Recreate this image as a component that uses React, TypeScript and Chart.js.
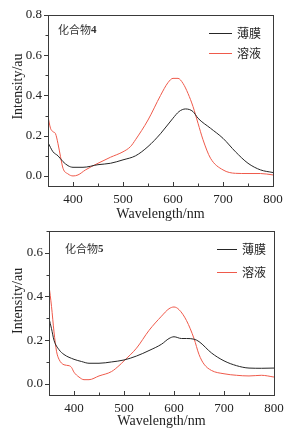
import React, { useEffect, useRef } from 'react';
import { Chart, registerables } from 'chart.js';
Chart.register(...registerables);

// ---- data ----
const xTicks = [400, 500, 600, 700, 800];
const yTicksTop = [0, 0.2, 0.4, 0.6, 0.8];
const yTicksBottom = [0, 0.2, 0.4, 0.6];
const seriesLabels = ['薄膜', '溶液'];
const compoundTop = ['化合物', '4'];
const compoundBottom = ['化合物', '5'];
const xTitle = 'Wavelength/nm';
const yTitle = 'Intensity/au';

const filmTopX = [350, 360, 370, 380, 390, 400, 420, 450, 475, 500, 525, 550, 575, 600, 612, 625, 640, 650, 675, 700, 725, 750, 775, 800];
const filmTopY = [0.166, 0.12, 0.1, 0.071, 0.051, 0.043, 0.043, 0.056, 0.063, 0.08, 0.1, 0.146, 0.21, 0.287, 0.32, 0.333, 0.32, 0.287, 0.237, 0.187, 0.12, 0.063, 0.03, 0.017];
const solTopX = [350, 355, 360, 365, 370, 375, 380, 390, 400, 410, 425, 450, 475, 500, 515, 525, 550, 575, 590, 600, 610, 620, 630, 640, 650, 660, 675, 700, 725, 750, 775, 800];
const solTopY = [0.295, 0.237, 0.22, 0.21, 0.16, 0.096, 0.038, 0.01, 0.0, 0.005, 0.03, 0.063, 0.093, 0.12, 0.146, 0.18, 0.278, 0.4, 0.464, 0.485, 0.485, 0.46, 0.41, 0.345, 0.262, 0.18, 0.088, 0.03, 0.013, 0.012, 0.012, 0.005];

const filmBotX = [350, 355, 360, 370, 380, 400, 415, 430, 450, 475, 500, 525, 550, 575, 590, 600, 615, 625, 640, 650, 675, 700, 725, 750, 775, 800];
const filmBotY = [0.3, 0.253, 0.2, 0.157, 0.135, 0.113, 0.103, 0.095, 0.095, 0.101, 0.11, 0.128, 0.153, 0.182, 0.208, 0.216, 0.208, 0.208, 0.205, 0.194, 0.142, 0.106, 0.084, 0.073, 0.072, 0.073];
const solBotX = [350, 355, 360, 365, 370, 380, 390, 395, 400, 410, 420, 430, 450, 475, 490, 500, 525, 550, 575, 590, 600, 610, 625, 640, 650, 660, 675, 700, 725, 750, 775, 800];
const solBotY = [0.45, 0.355, 0.238, 0.15, 0.113, 0.088, 0.084, 0.076, 0.054, 0.032, 0.02, 0.02, 0.037, 0.057, 0.084, 0.106, 0.164, 0.245, 0.31, 0.344, 0.352, 0.34, 0.29, 0.208, 0.135, 0.091, 0.062, 0.047, 0.04, 0.037, 0.04, 0.032];

const BLACK = '#262626';
const RED = '#ef5a4b';
const AXIS = '#3a3a3a';
const SERIF = '"Liberation Serif", "Times New Roman", serif';
const CJK = '"Noto Sans CJK SC", sans-serif';

const zip = (xs: number[], ys: number[]) => xs.map((x, i) => ({ x, y: ys[i] }));

type P = {
  film: { x: number; y: number }[];
  sol: { x: number; y: number }[];
  yMax: number;
  yTicks: number[];
  padTop: number;
  padRight: number;
  yW: number;
  xH: number;
  xTitlePad: number;
  yTitleShift: number;
  compound: string[];
  compX: number;
  compY: number;
  legX1: number;
  legX2: number;
  legY: number[];
};

function framePlugin(p: P) {
  return {
    id: 'frame',
    afterDraw(chart: any) {
      const ctx = chart.ctx as CanvasRenderingContext2D;
      const a = chart.chartArea;
      const xs = chart.scales.x;
      const ys = chart.scales.y;
      ctx.save();
      ctx.strokeStyle = AXIS;
      ctx.lineWidth = 1;
      ctx.strokeRect(Math.round(a.left) + 0.5, Math.round(a.top) + 0.5, Math.round(a.right - a.left), Math.round(a.bottom - a.top));
      ctx.beginPath();
      // y ticks (outward), major + minor
      for (let v = 0; v <= p.yMax + 1e-9; v += 0.1) {
        const y = Math.round(ys.getPixelForValue(v)) + 0.5;
        const major = Math.round(v * 10) % 2 === 0;
        const len = major ? 4 : 2.5;
        ctx.moveTo(a.left, y);
        ctx.lineTo(a.left - len, y);
      }
      // x ticks (inward), major + minor
      for (let v = 400; v <= 800; v += 50) {
        const x = Math.round(xs.getPixelForValue(v)) + 0.5;
        const major = v % 100 === 0;
        const len = major ? 4 : 2.5;
        ctx.moveTo(x, a.bottom);
        ctx.lineTo(x, a.bottom - len);
      }
      ctx.stroke();

      // y title
      ctx.fillStyle = '#222';
      ctx.font = `14px ${SERIF}`;
      ctx.textAlign = 'center';
      ctx.textBaseline = 'middle';
      ctx.translate(18, (a.top + a.bottom) / 2 + p.yTitleShift);
      ctx.rotate(-Math.PI / 2);
      ctx.fillText(yTitle, 0, 0);
      ctx.setTransform(1, 0, 0, 1, 0, 0);

      // compound label
      ctx.textAlign = 'left';
      ctx.textBaseline = 'middle';
      ctx.font = `11px ${CJK}`;
      ctx.fillStyle = '#333';
      const cx = a.left + p.compX;
      const cy = a.top + p.compY;
      ctx.fillText(p.compound[0], cx, cy);
      const w = ctx.measureText(p.compound[0]).width;
      ctx.font = `bold 11px ${SERIF}`;
      ctx.fillText(p.compound[1], cx + w, cy);

      // legend
      chart.data.datasets.forEach((ds: any, i: number) => {
        const ly = Math.round(a.top + p.legY[i]) + 0.5;
        ctx.strokeStyle = ds.borderColor;
        ctx.lineWidth = 1;
        ctx.beginPath();
        ctx.moveTo(a.right + p.legX1, ly);
        ctx.lineTo(a.right + p.legX2, ly);
        ctx.stroke();
        ctx.fillStyle = '#222';
        ctx.font = `12px ${CJK}`;
        ctx.fillText(ds.label, a.right + p.legX2 + 5, ly);
      });
      ctx.restore();
    },
  };
}

function makeConfig(p: P): any {
  const tickFont = { family: SERIF, size: 13 };
  return {
    type: 'line',
    data: {
      datasets: [
        { label: seriesLabels[0], data: p.film, borderColor: BLACK, borderWidth: 1, pointRadius: 0, cubicInterpolationMode: 'monotone', fill: false },
        { label: seriesLabels[1], data: p.sol, borderColor: RED, borderWidth: 1, pointRadius: 0, cubicInterpolationMode: 'monotone', fill: false },
      ],
    },
    options: {
      responsive: false,
      animation: false,
      events: [],
      layout: { padding: { top: p.padTop, right: p.padRight, left: 0, bottom: 0 } },
      plugins: { legend: { display: false }, tooltip: { enabled: false } },
      scales: {
        x: {
          type: 'linear',
          min: 350,
          max: 800,
          afterFit: (s: any) => { s.height = p.xH; },
          afterBuildTicks: (s: any) => { s.ticks = xTicks.map((v) => ({ value: v })); },
          grid: { display: false, drawTicks: false },
          border: { display: false },
          ticks: { padding: 6, font: tickFont, color: '#222', maxRotation: 0, autoSkip: false },
          title: { display: true, text: xTitle, font: { family: SERIF, size: 14 }, color: '#222', padding: { top: 0, bottom: p.xTitlePad } },
        },
        y: {
          type: 'linear',
          min: -0.05,
          max: p.yMax,
          afterFit: (s: any) => { s.width = p.yW; },
          afterBuildTicks: (s: any) => { s.ticks = p.yTicks.map((v) => ({ value: v })); },
          grid: { display: false, drawTicks: false },
          border: { display: false },
          ticks: { padding: 6, font: tickFont, color: '#222', autoSkip: false, callback: (v: any) => Number(v).toFixed(1) },
        },
      },
    },
    plugins: [framePlugin(p)],
  };
}

const topParams: P = {
  film: zip(filmTopX, filmTopY),
  sol: zip(solTopX, solTopY),
  yMax: 0.8,
  yTicks: yTicksTop,
  padTop: 15,
  padRight: 17,
  yW: 48,
  xH: 44,
  xTitlePad: 7,
  yTitleShift: -14,
  compound: compoundTop,
  compX: 10,
  compY: 15,
  legX1: -64,
  legX2: -41,
  legY: [18, 38],
};

const bottomParams: P = {
  film: zip(filmBotX, filmBotY),
  sol: zip(solBotX, solBotY),
  yMax: 0.7,
  yTicks: yTicksBottom,
  padTop: 7,
  padRight: 16,
  yW: 49,
  xH: 39,
  xTitlePad: 4,
  yTitleShift: -12,
  compound: compoundBottom,
  compX: 16,
  compY: 18,
  legX1: -57,
  legX2: -37,
  legY: [18, 41],
};

function ChartCanvas({ params, top, height }: { params: P; top: number; height: number }) {
  const ref = useRef<HTMLCanvasElement | null>(null);
  useEffect(() => {
    if (!ref.current) return;
    const chart = new Chart(ref.current, makeConfig(params));
    return () => chart.destroy();
  }, [params]);
  return (
    <canvas
      ref={ref}
      width={290}
      height={height}
      style={{ position: 'absolute', left: 0, top, width: 290, height }}
    />
  );
}

export default function App() {
  return (
    <div style={{ position: 'fixed', left: 0, top: 0, width: 290, height: 434, background: '#fff', overflow: 'hidden' }}>
      <ChartCanvas params={topParams} top={0} height={230} />
      <ChartCanvas params={bottomParams} top={217} height={217} />
    </div>
  );
}
